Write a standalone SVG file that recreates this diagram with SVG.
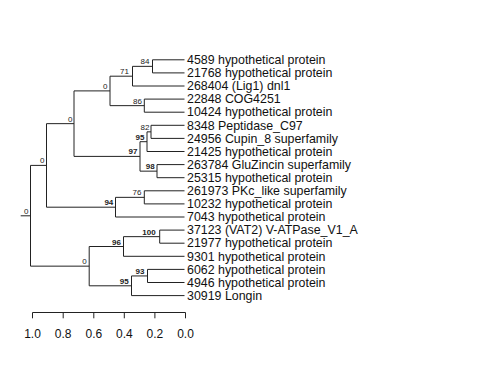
<svg xmlns="http://www.w3.org/2000/svg" width="480" height="384" viewBox="0 0 480 384">
<style>
.e{stroke:#222;stroke-width:1;fill:none}
.tip{font-family:"Liberation Sans",Arial,sans-serif;font-size:12.4px;fill:#111}
.bs{font-family:"Liberation Sans",Arial,sans-serif;font-size:8px;fill:#222;text-anchor:end}
.b{font-weight:bold}
.ax{font-family:"Liberation Sans",Arial,sans-serif;font-size:12px;fill:#111;text-anchor:middle}
</style>
<rect width="480" height="384" fill="#fff"/>
<g id="connectors" class="e">
<path d="M20.7,215.8H30.5M30.5,165.4V266.15M30.5,165.4H46.5M30.5,266.15H89.2"/>
<path d="M46.5,123.65V207.2M46.5,123.65H74M46.5,207.2H115.5"/>
<path d="M74,90.9V156.4M74,90.9H110M74,156.4H140"/>
<path d="M110,76.2V105.65M110,76.2H132.5M110,105.65H144.3"/>
<path d="M132.5,66.35V86M132.5,66.35H152.5M132.5,86H184.5"/>
<path d="M152.5,59.8V72.9M152.5,59.8H184.5M152.5,72.9H184.5"/>
<path d="M144.3,99.1V112.2M144.3,99.1H184.5M144.3,112.2H184.5"/>
<path d="M140,141.7V171.15M140,141.7H147M140,171.15H157"/>
<path d="M147,131.85V151.5M147,131.85H151M147,151.5H184.5"/>
<path d="M151,125.3V138.4M151,125.3H184.5M151,138.4H184.5"/>
<path d="M157,164.6V177.7M157,164.6H184.5M157,177.7H184.5"/>
<path d="M115.5,197.35V217M115.5,197.35H144.3M115.5,217H184.5"/>
<path d="M144.3,190.8V203.9M144.3,190.8H184.5M144.3,203.9H184.5"/>
<path d="M89.2,246.5V285.8M89.2,246.5H123.5M89.2,285.8H131.5"/>
<path d="M123.5,236.65V256.3M123.5,236.65H159.7M123.5,256.3H184.5"/>
<path d="M159.7,230.1V243.2M159.7,230.1H184.5M159.7,243.2H184.5"/>
<path d="M131.5,275.95V295.6M131.5,275.95H147.5M131.5,295.6H184.5"/>
<path d="M147.5,269.4V282.5M147.5,269.4H184.5M147.5,282.5H184.5"/>
</g>
<g id="node-root"><text class="bs" x="28.5" y="213.5">0</text></g>
<g id="node-A"><text class="bs" x="44.5" y="163">0</text></g>
<g id="node-B"><text class="bs" x="72.5" y="121.5">0</text></g>
<g id="node-C"><text class="bs" x="107.5" y="88.5">0</text></g>
<g id="node-D"><text class="bs" x="129" y="74.2">71</text></g>
<g id="node-E"><text class="bs" x="149.5" y="64.3">84</text></g>
<g id="node-F"><text class="bs" x="142" y="103.5">86</text></g>
<g id="node-G"><text class="bs b" x="137.5" y="154.3">97</text></g>
<g id="node-H"><text class="bs b" x="144.5" y="139.8">95</text></g>
<g id="node-I"><text class="bs" x="149.5" y="129.5">82</text></g>
<g id="node-J"><text class="bs b" x="154.7" y="169">98</text></g>
<g id="node-K"><text class="bs b" x="113.3" y="205.3">94</text></g>
<g id="node-L"><text class="bs" x="141.5" y="195.3">76</text></g>
<g id="node-M"><text class="bs" x="86.7" y="264">0</text></g>
<g id="node-N"><text class="bs b" x="121" y="244.5">96</text></g>
<g id="node-O"><text class="bs b" x="155.7" y="234.5">100</text></g>
<g id="node-P"><text class="bs b" x="128.7" y="283.7">95</text></g>
<g id="node-Q"><text class="bs b" x="144.5" y="273.5">93</text></g>
<g id="leaf-4589"><text class="tip" x="187" y="64">4589 hypothetical protein</text></g>
<g id="leaf-21768"><text class="tip" x="187" y="77.1">21768 hypothetical protein</text></g>
<g id="leaf-268404"><text class="tip" x="187" y="90.2">268404 (Lig1) dnl1</text></g>
<g id="leaf-22848"><text class="tip" x="187" y="103.3">22848 COG4251</text></g>
<g id="leaf-10424"><text class="tip" x="187" y="116.4">10424 hypothetical protein</text></g>
<g id="leaf-8348"><text class="tip" x="187" y="129.5">8348 Peptidase_C97</text></g>
<g id="leaf-24956"><text class="tip" x="187" y="142.6">24956 Cupin_8 superfamily</text></g>
<g id="leaf-21425"><text class="tip" x="187" y="155.7">21425 hypothetical protein</text></g>
<g id="leaf-263784"><text class="tip" x="187" y="168.8">263784 GluZincin superfamily</text></g>
<g id="leaf-25315"><text class="tip" x="187" y="181.9">25315 hypothetical protein</text></g>
<g id="leaf-261973"><text class="tip" x="187" y="195">261973 PKc_like superfamily</text></g>
<g id="leaf-10232"><text class="tip" x="187" y="208.1">10232 hypothetical protein</text></g>
<g id="leaf-7043"><text class="tip" x="187" y="221.2">7043 hypothetical protein</text></g>
<g id="leaf-37123"><text class="tip" x="187" y="234.3">37123 (VAT2) V-ATPase_V1_A</text></g>
<g id="leaf-21977"><text class="tip" x="187" y="247.4">21977 hypothetical protein</text></g>
<g id="leaf-9301"><text class="tip" x="187" y="260.5">9301 hypothetical protein</text></g>
<g id="leaf-6062"><text class="tip" x="187" y="273.6">6062 hypothetical protein</text></g>
<g id="leaf-4946"><text class="tip" x="187" y="286.7">4946 hypothetical protein</text></g>
<g id="leaf-30919"><text class="tip" x="187" y="299.8">30919 Longin</text></g>
<g id="axis">
<path class="e" d="M32.5,312.5H185.5M32.5,312.5V318.3M63.2,312.5V318.3M93.8,312.5V318.3M124.3,312.5V318.3M154.9,312.5V318.3M185.5,312.5V318.3"/>
<text class="ax" x="32.5" y="338">1.0</text>
<text class="ax" x="63.2" y="338">0.8</text>
<text class="ax" x="93.8" y="338">0.6</text>
<text class="ax" x="124.3" y="338">0.4</text>
<text class="ax" x="154.9" y="338">0.2</text>
<text class="ax" x="185.5" y="338">0.0</text>
</g>
</svg>
